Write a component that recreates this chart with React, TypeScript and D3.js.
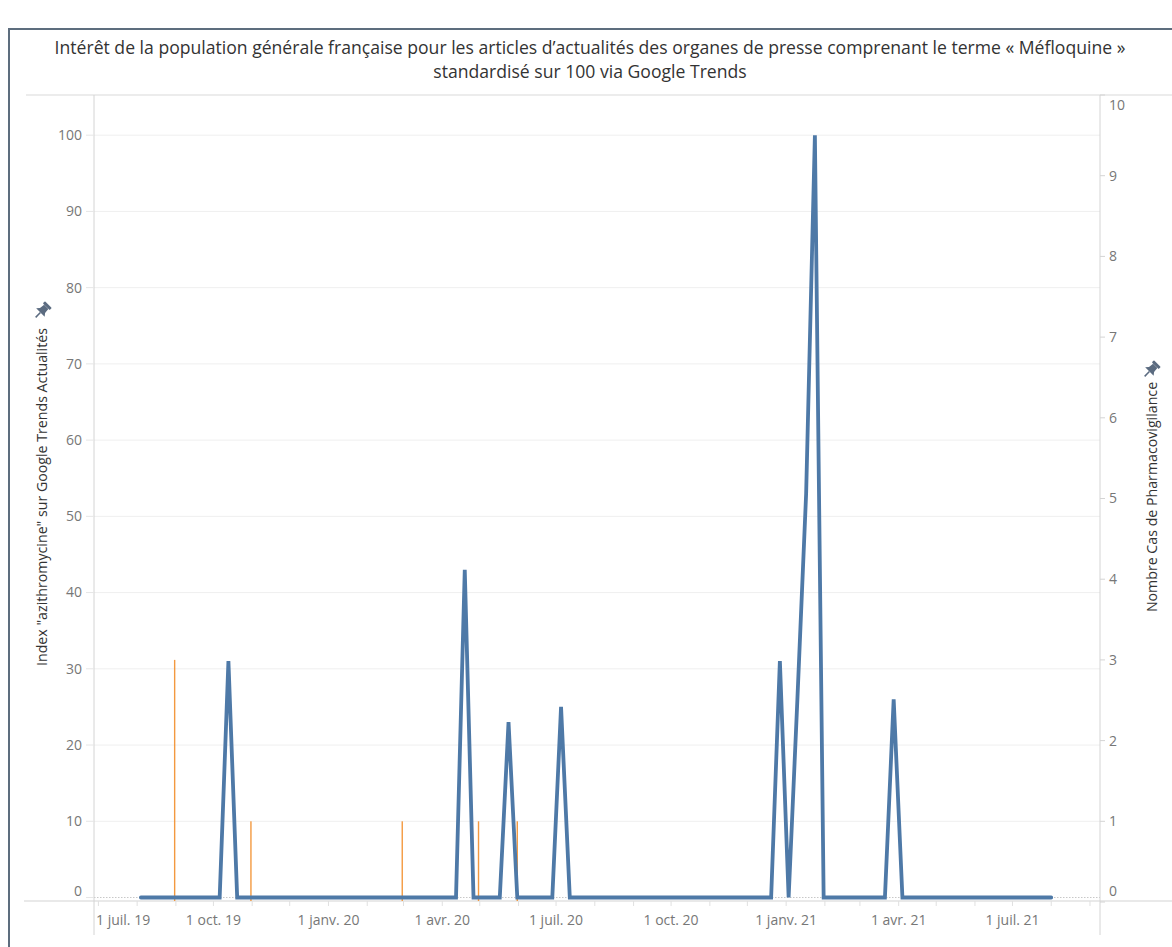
import React from "react";
import * as d3 from "d3";

// ---- Data ----
const trendDates = [
  "2019-08-04", "2019-10-06", "2019-10-13", "2019-10-20",
  "2020-04-12", "2020-04-19", "2020-04-26",
  "2020-05-17", "2020-05-24", "2020-05-31",
  "2020-06-28", "2020-07-05", "2020-07-12",
  "2020-12-20", "2020-12-27", "2021-01-03", "2021-01-10", "2021-01-17", "2021-01-24", "2021-01-31",
  "2021-03-21", "2021-03-28", "2021-04-04", "2021-08-01",
];
const trendValues = [
  0, 0, 31, 0,
  0, 43, 0,
  0, 23, 0,
  0, 25, 0,
  0, 31, 0, 26, 53, 100, 0,
  0, 26, 0, 0,
];

const caseDates = ["2019-08-31", "2019-10-31", "2020-02-29", "2020-04-30", "2020-05-31"];
const caseValues = [3, 1, 1, 1, 1];

const leftTicks = [0, 10, 20, 30, 40, 50, 60, 70, 80, 90, 100];
const rightTicks = [0, 1, 2, 3, 4, 5, 6, 7, 8, 9, 10];

const xTickDates = [
  "2019-07-01", "2019-10-01", "2020-01-01", "2020-04-01", "2020-07-01",
  "2020-10-01", "2021-01-01", "2021-04-01", "2021-07-01",
];
const xTickLabels = [
  "1 juil. 19", "1 oct. 19", "1 janv. 20", "1 avr. 20", "1 juil. 20",
  "1 oct. 20", "1 janv. 21", "1 avr. 21", "1 juil. 21",
];

const titleLines = [
  "Intérêt de la population générale française pour les articles d’actualités des organes de presse comprenant le terme « Méfloquine »",
  "standardisé sur 100 via Google Trends",
];
const leftTitle = "Index \"azithromycine\" sur Google Trends Actualités";
const rightTitle = "Nombre Cas de Pharmacovigilance";

// ---- Layout ----
const W = 1172;
const H = 947;
const paneLeft = 94;
const paneRight = 1100;
const paneTop = 95;
const paneBottom = 902;
const FONT = "'Open Sans', 'Noto Sans', sans-serif";

const parse = d3.utcParse("%Y-%m-%d");

function Pin({ x, y }: { x: number; y: number }) {
  return (
    <g transform={`translate(${x},${y}) rotate(45) scale(1.5)`} fill="#5b6b80" stroke="none">
      <rect x={-3.2} y={-6} width={6.4} height={2} rx={0.5} />
      <path d="M-2,-4 L2,-4 L2.4,-0.5 L4,1.5 L-4,1.5 L-2.4,-0.5 Z" />
      <rect x={-0.5} y={1.5} width={1} height={4.5} />
    </g>
  );
}

export default function App() {
  const x = d3
    .scaleUtc()
    .domain([new Date(Date.UTC(2019, 5, 27, 12)), new Date(Date.UTC(2021, 8, 9))])
    .range([paneLeft, paneRight]);
  const yL = d3.scaleLinear().domain([-0.59, 105.27]).range([paneBottom, paneTop]);
  const yR = d3.scaleLinear().domain([0, 10]).range([paneBottom, paneTop]);

  const trend = trendDates.map((d, i) => ({ date: parse(d)!, value: trendValues[i] }));
  const cases = caseDates.map((d, i) => ({ date: parse(d)!, value: caseValues[i] }));

  const line = d3
    .line<{ date: Date; value: number }>()
    .x((d) => x(d.date))
    .y((d) => yL(d.value));

  const months = d3.utcMonth
    .range(x.domain()[0], x.domain()[1])
    .filter((m) => x(m) >= paneLeft && x(m) <= paneRight);

  const axisY = 901;

  return (
    <svg
      width={W}
      height={H}
      style={{ position: "absolute", left: 0, top: 0, background: "#fff" }}
      fontFamily={FONT}
    >
      <rect x={0} y={0} width={W} height={H} fill="#fff" />
      {/* frame */}
      <line x1={9} x2={W} y1={29} y2={29} stroke="#5d6d7e" strokeWidth={2} />
      <line x1={9} x2={9} y1={28} y2={H} stroke="#5d6d7e" strokeWidth={2} />

      {/* title */}
      {titleLines.map((t, i) => (
        <text
          key={i}
          x={590}
          y={54 + i * 24}
          textAnchor="middle"
          fontSize={17.6}
          fill="#333"
        >
          {t}
        </text>
      ))}
      <line x1={26} x2={W} y1={95} y2={95} stroke="#d9d9d9" strokeWidth={1} />

      {/* gridlines */}
      {leftTicks
        .filter((v) => v > 0)
        .map((v) => (
          <line
            key={v}
            x1={paneLeft}
            x2={paneRight}
            y1={yL(v)}
            y2={yL(v)}
            stroke="#efefef"
            strokeWidth={1}
          />
        ))}
      <line
        x1={paneLeft}
        x2={paneRight}
        y1={yL(0)}
        y2={yL(0)}
        stroke="#c8c8c8"
        strokeWidth={1}
        strokeDasharray="1.5,1.5"
      />

      {/* axis lines */}
      <line x1={paneLeft} x2={paneLeft} y1={paneTop} y2={935} stroke="#d4d4d4" strokeWidth={1} />
      <line x1={paneRight} x2={paneRight} y1={paneTop} y2={935} stroke="#d4d4d4" strokeWidth={1} />
      <line x1={24} x2={W} y1={axisY} y2={axisY} stroke="#d4d4d4" strokeWidth={1.2} />

      {/* left axis */}
      {leftTicks.map((v) => {
        const yy = yL(v);
        const ly = Math.min(yy, 891);
        return (
          <g key={v}>
            <line x1={paneLeft - 8} x2={paneLeft} y1={yy} y2={yy} stroke="#e6e6e6" />
            <text x={82} y={ly} dy="0.35em" textAnchor="end" fontSize={14} fill="#777">
              {v}
            </text>
          </g>
        );
      })}

      {/* right axis */}
      {rightTicks.map((v) => {
        const yy = yR(v);
        const ly = Math.max(Math.min(yy, 891), 105);
        return (
          <g key={v}>
            <line x1={paneRight} x2={paneRight + 5} y1={yy} y2={yy} stroke="#d4d4d4" />
            <text x={1109} y={ly} dy="0.35em" textAnchor="start" fontSize={14} fill="#777">
              {v}
            </text>
          </g>
        );
      })}

      {/* x axis month ticks */}
      {months.map((m, i) => (
        <line
          key={i}
          x1={x(m)}
          x2={x(m)}
          y1={axisY}
          y2={axisY + 5}
          stroke="#e0e0e0"
          strokeWidth={1}
        />
      ))}
      {xTickDates.map((d, i) => {
        const xx = x(parse(d)!);
        const first = i === 0;
        return (
          <text
            key={d}
            x={first ? paneLeft + 2 : xx}
            y={920}
            dy="0.35em"
            textAnchor={first ? "start" : "middle"}
            fontSize={14}
            fill="#777"
          >
            {xTickLabels[i]}
          </text>
        );
      })}

      {/* orange pharmacovigilance bars */}
      {cases.map((c, i) => (
        <rect
          key={i}
          x={x(c.date) - 0.7}
          width={1.4}
          y={yR(c.value)}
          height={yR(0) - yR(c.value) - 1}
          fill="#f28e2b"
          opacity={0.9}
        />
      ))}

      {/* blue Google Trends line */}
      <path
        d={line(trend) || ""}
        fill="none"
        stroke="#4e79a7"
        strokeWidth={3.8}
        strokeLinejoin="miter"
        strokeMiterlimit={20}
        strokeLinecap="round"
      />

      {/* axis titles */}
      <text
        transform={`translate(47,497) rotate(-90)`}
        textAnchor="middle"
        fontSize={14.2}
        fill="#333"
      >
        {leftTitle}
      </text>
      <Pin x={42} y={311} />
      <text
        transform={`translate(1157,497) rotate(-90)`}
        textAnchor="middle"
        fontSize={14.2}
        fill="#333"
      >
        {rightTitle}
      </text>
      <Pin x={1151} y={370} />
    </svg>
  );
}
